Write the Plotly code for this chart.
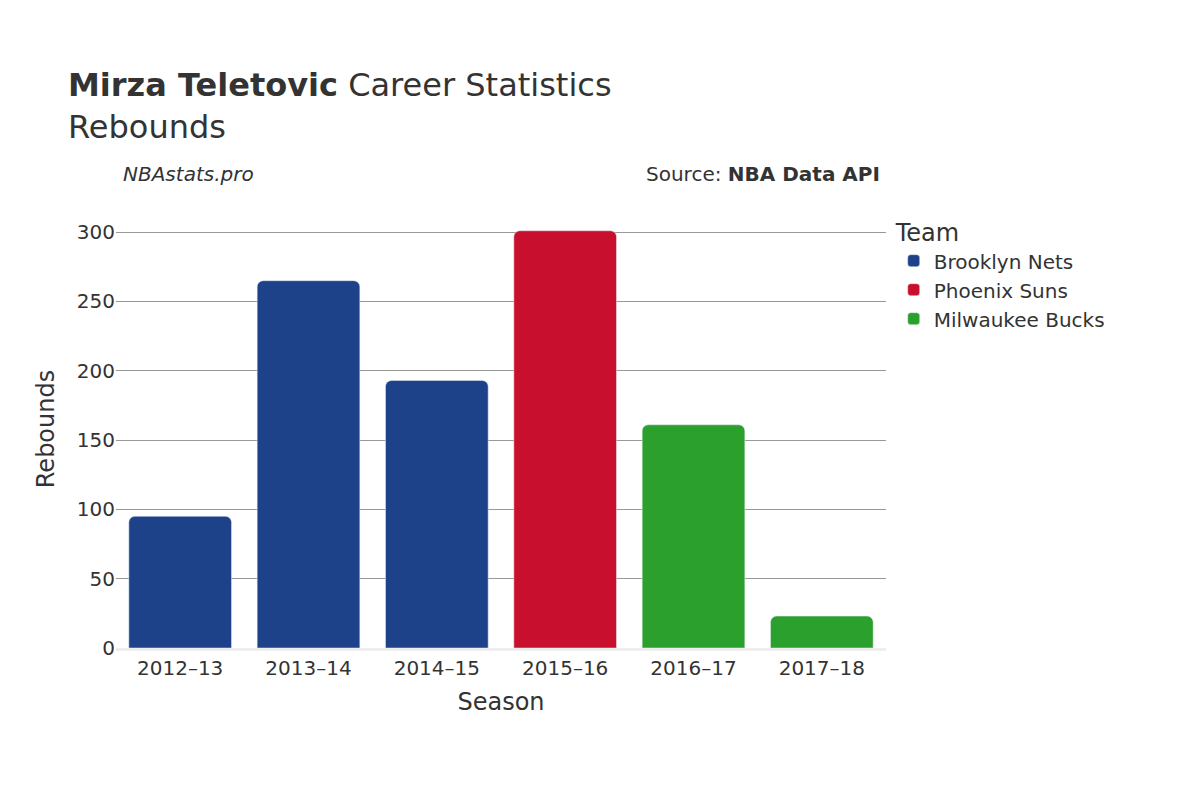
import plotly.graph_objects as go

seasons = ["2012–13", "2013–14", "2014–15", "2015–16", "2016–17", "2017–18"]
teams = ["Brooklyn Nets", "Brooklyn Nets", "Brooklyn Nets", "Phoenix Suns", "Milwaukee Bucks", "Milwaukee Bucks"]
rebounds = [95, 265, 193, 301, 161, 23]
team_order = ["Brooklyn Nets", "Phoenix Suns", "Milwaukee Bucks"]
colors = {"Brooklyn Nets": "#1d428a", "Phoenix Suns": "#c8102e", "Milwaukee Bucks": "#2ca02c"}

fig = go.Figure()
for t in team_order:
    xs = [s for s, tm in zip(seasons, teams) if tm == t]
    ys = [r for r, tm in zip(rebounds, teams) if tm == t]
    fig.add_trace(go.Bar(x=xs, y=ys, name=t, marker_color=colors[t], marker_cornerradius=6))

font = "DejaVu Sans"
fig.update_layout(
    width=1200, height=800,
    paper_bgcolor="white", plot_bgcolor="white",
    font=dict(family=font, color="#333", size=20),
    barmode="relative", bargap=0.2,
    margin=dict(l=108, r=322, t=202, b=160),
    title=dict(text="<b>Mirza Teletovic</b> Career Statistics<br>Rebounds", x=0.05, xanchor="left",
               y=0.89, yanchor="top", font=dict(size=32, color="#333")),
    xaxis=dict(title=dict(text="Season", font=dict(size=24)), categoryorder="array", categoryarray=seasons,
               tickfont=dict(size=20), showline=True, linecolor="#eee", linewidth=3),
    yaxis=dict(title=dict(text="Rebounds", font=dict(size=24)), range=[0, 316], tickvals=[0, 50, 100, 150, 200, 250, 300],
               gridcolor="#999", tickfont=dict(size=20), zeroline=False),
    legend=dict(title=dict(text="Team", font=dict(size=24)), x=1.01, y=1.0, yanchor="top",
                font=dict(size=20)),
    annotations=[
        dict(text="<i>NBAstats.pro</i>", xref="paper", yref="paper", x=0.0, y=1.0, yshift=22,
             xanchor="left", yanchor="bottom", showarrow=False, font=dict(size=20, color="#333"),
             xshift=5),
        dict(text="Source: <b>NBA Data API</b>", xref="paper", yref="paper", x=1.0, y=1.0, yshift=22,
             xanchor="right", yanchor="bottom", showarrow=False, font=dict(size=20, color="#333"),
             xshift=-4),
    ],
)
fig.write_html("out.html")
